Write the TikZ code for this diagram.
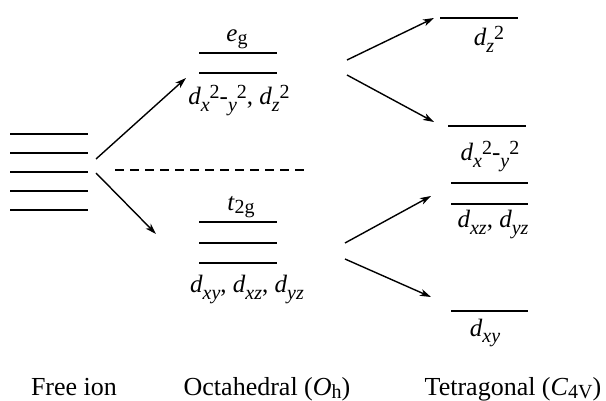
\documentclass[tikz,border=0pt]{standalone}
\usepackage{fontspec}
\setmainfont{Liberation Serif}
\usetikzlibrary{arrows.meta}

\tikzset{
  level/.style={line width=1.4pt},
  split/.style={line width=1.4pt, -{Stealth[length=11pt,width=7pt,inset=3pt]}},
  lbl/.style={font=\fontsize{25}{27}\selectfont, inner sep=0pt, anchor=base},
  stage/.style={font=\fontsize{26}{28}\selectfont, inner sep=0pt, anchor=base}
}
% sub- and superscripts as set in the figure
\newcommand{\lo}[1]{\raisebox{-0.26em}{\fontsize{20}{20}\selectfont #1}}
\newcommand{\hi}[1]{\raisebox{0.24em}{\fontsize{20}{20}\selectfont #1}}
\newcommand{\rsub}[1]{\raisebox{-0.12em}{\fontsize{20}{20}\selectfont #1}}
\newcommand{\dorb}[1]{\textit{d}\lo{\itshape #1}}

\begin{document}
\begin{tikzpicture}[x=1pt, y=-1pt]
        \useasboundingbox (0,0) rectangle (606,401);

        % Free ion
        \foreach \yy in {134,153,172,191,210}
            \draw[level] (10,\yy) -- (88,\yy);
        \coordinate (fiTop) at (96,159);
        \coordinate (fiBot) at (96,173);

        % Barycentre
        \draw[dashed, line width=1.2pt, dash pattern=on 9pt off 6pt] (115,170) -- (308,170);

        % Octahedral, e_g
        \draw[level] (199,53) -- (277,53);
        \draw[level] (199,73) -- (277,73);
        \node[lbl] (eg) at (237,42) {\textit{e}\rsub{g}};
        \node[lbl] (egd) at (239,105) {\dorb{x}\hi{2}-\lo{\itshape y}\hi{2}, \dorb{z}\hi{2}};
        \coordinate (egL) at (186,78);
        \coordinate (egR) at (347,60);
        \coordinate (egR2) at (347,75);

        % Octahedral, t_2g
        \foreach \yy in {222,243,263}
            \draw[level] (199,\yy) -- (277,\yy);
        \node[lbl] (tg) at (241,211) {\textit{t}\rsub{2g}};
        \node[lbl] (tgd) at (247,293) {\dorb{xy}, \dorb{xz}, \dorb{yz}};
        \coordinate (tgL) at (156,234);
        \coordinate (tgR) at (345,243);
        \coordinate (tgR2) at (345,259);

        % Tetragonal
        \draw[level] (440,18) -- (518,18);
        \node[lbl] (dz) at (489,46) {\dorb{z}\hi{2}};
        \draw[level] (448,126) -- (526,126);
        \node[lbl] (dx) at (490,161) {\dorb{x}\hi{2}-\lo{\itshape y}\hi{2}};
        \draw[level] (451,183) -- (528,183);
        \draw[level] (451,204) -- (528,204);
        \node[lbl] (dxz) at (493,228) {\dorb{xz}, \dorb{yz}};
        \draw[level] (451,311) -- (528,311);
        \node[lbl] (dxy) at (485,336) {\dorb{xy}};
        \coordinate (dzL) at (434,18);
        \coordinate (dxL) at (434,122);
        \coordinate (dxzL) at (431,196);
        \coordinate (dxyL) at (431,297);

        % Splitting arrows
        \draw[split] (fiTop) -- (egL);
        \draw[split] (fiBot) -- (tgL);
        \draw[split] (egR) -- (dzL);
        \draw[split] (egR2) -- (dxL);
        \draw[split] (tgR) -- (dxzL);
        \draw[split] (tgR2) -- (dxyL);

        % Stages
        \node[stage] (free) at (74,395) {Free ion};
        \node[stage] (oct) at (267,395) {Octahedral (\textit{O}\rsub{h})};
        \node[stage] (tet) at (513,395) {Tetragonal (\textit{C}\rsub{4V})};
    \end{tikzpicture}
\end{document}
